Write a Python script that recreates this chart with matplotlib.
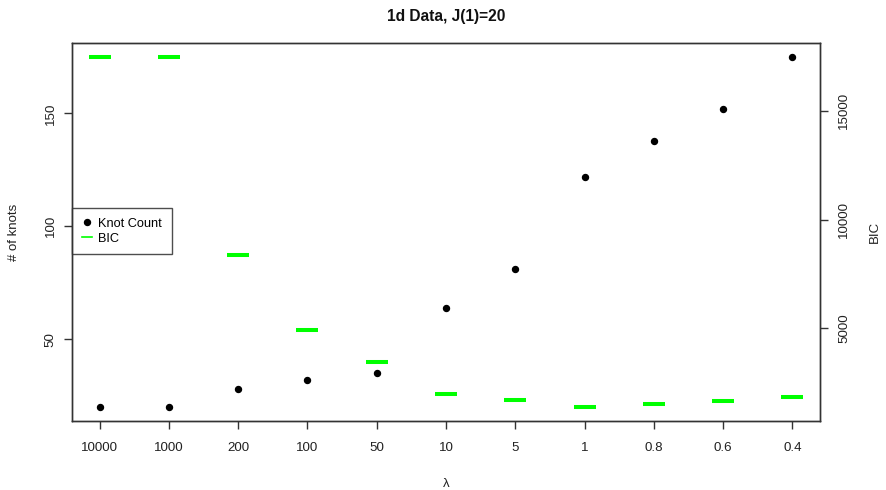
import matplotlib
matplotlib.use("Agg")
import matplotlib.pyplot as plt
from matplotlib.lines import Line2D

plt.rcParams['font.family'] = ['Liberation Sans', 'DejaVu Sans']

# lambda values shown as categories on the x axis
lambdas = ["10000", "1000", "200", "100", "50", "10", "5", "1", "0.8", "0.6", "0.4"]
# number of knots (left axis)
knots = [20, 20, 28, 32, 35, 64, 81, 122, 138, 152, 175]
# BIC (right axis)
bic = [17480, 17480, 8350, 4910, 3440, 1980, 1700, 1380, 1510, 1650, 1840]

xpos = list(range(1, len(lambdas) + 1))
edge = '#333333'

fig = plt.figure(figsize=(8.86, 4.9), dpi=100)
ax = fig.add_axes([72 / 886, 1 - 421 / 490, 748 / 886, 378 / 490])
ax2 = ax.twinx()

# knot count points
ax.plot(xpos, knots, 'o', color='black', markersize=4.3, zorder=3)
ax.set_xlim(0.6, 11.4)
ax.set_ylim(13.8, 181.2)
ax.set_xticks(xpos)
ax.set_xticklabels(lambdas)
ax.set_yticks([50, 100, 150])
ax.set_ylabel('# of knots', fontsize=9.5, color='#222222')
ax.yaxis.set_label_coords(-0.0695, 0.5)
ax.set_xlabel('λ', fontsize=9.5, color='#222222')
ax.xaxis.set_label_coords(0.5, -0.15)

# BIC as green dashes
ax2.plot(xpos, bic, '_', color='#00FF00', markersize=16.5, markeredgewidth=2.9)
ax2.set_ylim(733, 18121)
ax2.set_yticks([5000, 10000, 15000])
ax2.set_ylabel('BIC', fontsize=9.5, color='#222222', rotation=90)
ax2.yaxis.set_label_coords(1.0655, 0.5)

for a in (ax, ax2):
    for s in a.spines.values():
        s.set_color(edge)
        s.set_linewidth(1.0)
    a.tick_params(length=6, width=1.0, color=edge, labelsize=9.6, labelcolor='#222222')

ax.tick_params(axis='x', pad=9)
ax.tick_params(axis='y', pad=5)
ax2.tick_params(axis='y', pad=7)
for lab in ax.get_yticklabels():
    lab.set_rotation(90)
    lab.set_va('center')
for lab in ax2.get_yticklabels():
    lab.set_rotation(90)
    lab.set_va('center')

fig.text(446 / 886, 1 - 17 / 490, '1d Data, J(1)=20', ha='center', va='center',
         fontsize=11.2, fontweight='bold', color='#111111')

handles = [
    Line2D([], [], marker='o', linestyle='none', color='black', markersize=4.3),
    Line2D([], [], color='#00FF00', linewidth=1.2),
]
leg = ax.legend(handles, ['Knot Count', 'BIC'], loc='upper left',
                bbox_to_anchor=(0.0, 0.5635), fontsize=9.2, frameon=True,
                fancybox=False, handlelength=0.8, handletextpad=0.5,
                borderpad=0.75, labelspacing=0.25, borderaxespad=0)
leg.get_frame().set_edgecolor('#222222')
leg.get_frame().set_linewidth(1.0)
leg.set_zorder(5)

fig.savefig('out.png', dpi=100)
